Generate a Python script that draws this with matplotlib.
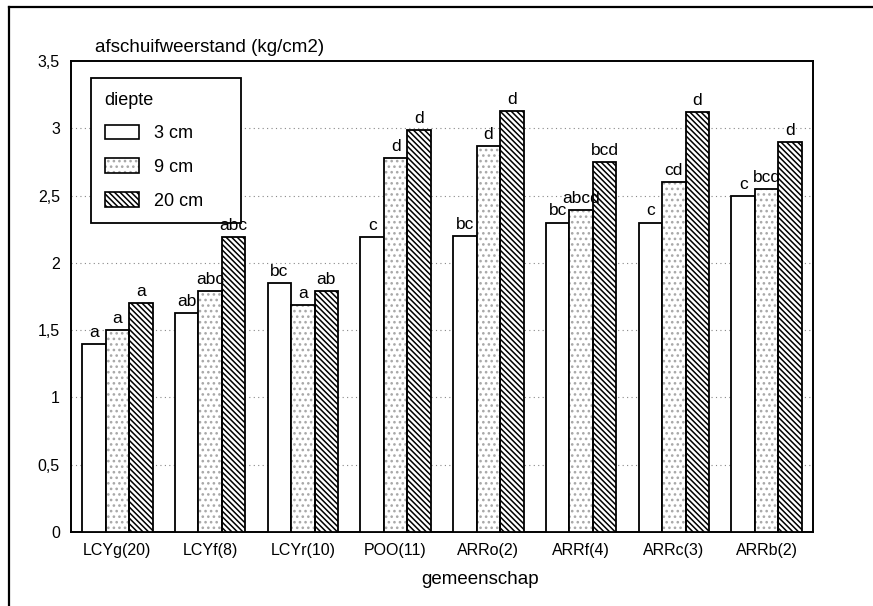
import numpy as np
import matplotlib.pyplot as plt
from matplotlib.patches import Patch, Rectangle
from matplotlib.lines import Line2D
from matplotlib.legend_handler import HandlerBase

plt.rcParams['font.family'] = ['Liberation Sans', 'DejaVu Sans']
plt.rcParams['hatch.linewidth'] = 1.1

groups = ['LCYg(20)', 'LCYf(8)', 'LCYr(10)', 'POO(11)',
          'ARRo(2)', 'ARRf(4)', 'ARRc(3)', 'ARRb(2)']
depths = ['3 cm', '9 cm', '20 cm']

vals_3 = [1.40, 1.63, 1.85, 2.19, 2.20, 2.30, 2.30, 2.50]
vals_9 = [1.50, 1.79, 1.69, 2.78, 2.87, 2.39, 2.60, 2.55]
vals_20 = [1.70, 2.19, 1.79, 2.99, 3.13, 2.75, 3.12, 2.90]

lett_3 = ['a', 'ab', 'bc', 'c', 'bc', 'bc', 'c', 'c']
lett_9 = ['a', 'abc', 'a', 'd', 'd', 'abcd', 'cd', 'bcd']
lett_20 = ['a', 'abc', 'ab', 'd', 'd', 'bcd', 'd', 'd']

yticks = [0, 0.5, 1, 1.5, 2, 2.5, 3, 3.5]
ytick_labels = ['0', '0,5', '1', '1,5', '2', '2,5', '3', '3,5']

# (hatch, hatch colour) per depth
styles = [(None, 'black'), ('...', '#a8a8a8'), ('\\\\\\\\\\\\', 'black')]

fig = plt.figure(figsize=(8.73, 6.06), dpi=100)
ax = fig.add_axes([0.0813, 0.1221, 0.85, 0.7772])

x = np.arange(len(groups))
w = 0.253
series = [vals_3, vals_9, vals_20]
letters = [lett_3, lett_9, lett_20]

for i, (vals, (hatch, hcol), lt) in enumerate(zip(series, styles, letters)):
    pos = x + (i - 1) * w
    if hatch:
        # hatch layer first, outline drawn on top
        ax.bar(pos, vals, width=w, facecolor='white', edgecolor=hcol,
               linewidth=0, hatch=hatch, zorder=3)
        ax.bar(pos, vals, width=w, fill=False, edgecolor='black',
               linewidth=1.3, zorder=3.5)
    else:
        ax.bar(pos, vals, width=w, facecolor='white', edgecolor='black',
               linewidth=1.3, zorder=3)
    for p, v, t in zip(pos, vals, lt):
        ax.text(p, v + 0.03, t, ha='center', va='bottom', fontsize=12.5,
                zorder=6)

# dotted horizontal grid at every half unit
for yv in yticks[1:-1]:
    ax.axhline(yv, color='#888888', linestyle=(0, (1, 3)), linewidth=0.8,
               zorder=1)

ax.set_xlim(-0.5, len(groups) - 0.5)
ax.set_ylim(0, 3.5)
ax.set_yticks(yticks)
ax.set_yticklabels(ytick_labels, fontsize=11.5)
ax.set_xticks(x)
ax.set_xticklabels(groups, fontsize=11.5)
ax.tick_params(length=0, pad=8)
for s in ax.spines.values():
    s.set_linewidth(1.4)

fig.text(0.109, 1 - 52 / 606, 'afschuifweerstand (kg/cm2)', fontsize=13.5,
         ha='left', va='baseline')
fig.text(0.55, 0.037, 'gemeenschap', fontsize=13.5, ha='center',
         va='baseline')


class HatchBox(HandlerBase):
    def __init__(self, hatch, hcol):
        super().__init__()
        self.hatch = hatch
        self.hcol = hcol

    def create_artists(self, legend, orig, xd, yd, width, height, fontsize, trans):
        arts = []
        if self.hatch:
            arts.append(Rectangle((-xd, -yd), width, height, facecolor='white',
                                  edgecolor=self.hcol, linewidth=0,
                                  hatch=self.hatch, transform=trans))
        arts.append(Rectangle((-xd, -yd), width, height, fill=False,
                              edgecolor='black', linewidth=1.2,
                              transform=trans))
        return arts


handles = [Patch(label=d) for d in depths]
hmap = {h: HatchBox(hs, hc) for h, (hs, hc) in zip(handles, styles)}
leg = ax.legend(handles=handles, handler_map=hmap, title='diepte',
                loc='upper left',
                bbox_to_anchor=(91 / 873, 1 - 222 / 606, 150 / 873, 144 / 606),
                bbox_transform=fig.transFigure, mode='expand',
                fontsize=13, title_fontsize=13, handlelength=1.9,
                handleheight=0.85, labelspacing=0.9, borderpad=0.75,
                handletextpad=0.85, fancybox=False, framealpha=1,
                edgecolor='black', borderaxespad=0)
leg._legend_box.align = 'left'
leg.get_frame().set_linewidth(1.3)
leg.set_zorder(5)

# outer frame
fig.add_artist(Line2D([9 / 873, 9 / 873], [0, 1 - 7 / 606],
                      transform=fig.transFigure, color='black', lw=1.6))
fig.add_artist(Line2D([9 / 873, 1], [1 - 7 / 606, 1 - 7 / 606],
                      transform=fig.transFigure, color='black', lw=1.6))

fig.savefig('out.png', dpi=100)
